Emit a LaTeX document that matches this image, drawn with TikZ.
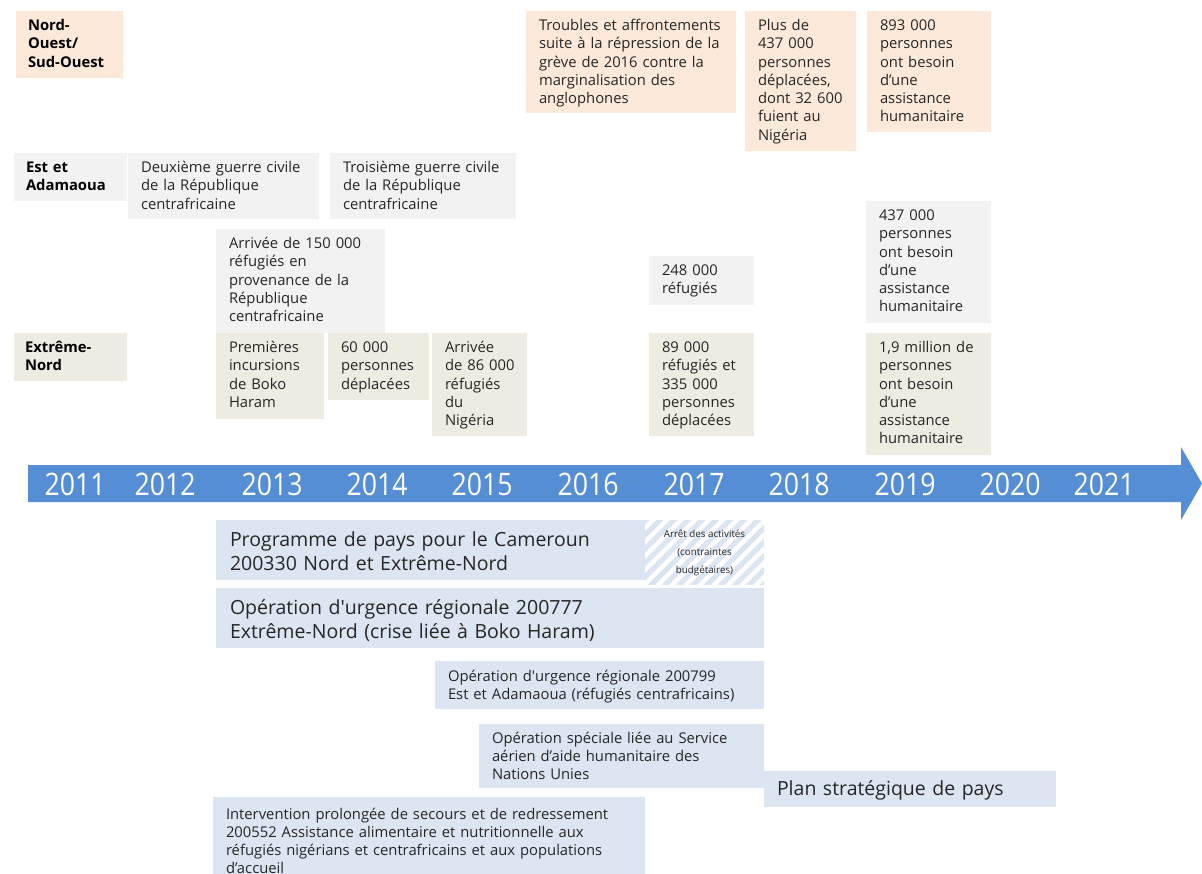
\documentclass[tikz,border=0pt]{standalone}
\usepackage{fontspec}
\usepackage{graphicx}
\setmainfont{Open Sans}
\newcommand\sq{{\addfontfeatures{Ligatures=TeXOff}'}}
\definecolor{cpeach}{HTML}{FDE9D9}
\definecolor{cgrey}{HTML}{F2F2F2}
\definecolor{cbeige}{HTML}{EEECE1}
\definecolor{cblue}{HTML}{DCE6F2}
\definecolor{carrow}{HTML}{558ED5}
\definecolor{ctext}{HTML}{262626}
\tikzset{
  padx/.store in=\evpadx, pady/.store in=\evpady,
  evbox/.style={inner sep=0pt, outer sep=0pt, anchor=north west, draw=none},
  evtext/.style={anchor=base west, inner sep=0pt, outer sep=0pt, text width=440pt,
     align=left, text=ctext, font=\fontsize{14.8}{18.3}\selectfont},
  lbl/.style={font=\fontsize{14.8}{18.3}\selectfont\bfseries, text=black, padx=12},
  big/.style={font=\fontsize{19.5}{24}\selectfont, padx=14, pady=26},
  year/.style={anchor=base, inner sep=0pt, text=white, font=\fontsize{31}{31}\selectfont}
}
% \ev[text style]{name}{colour}{x1}{y1}{x2}{y2}{text}
\newcommand\ev[8][]{%
  \node[evbox, fill=#3, minimum width={#6-#4}, minimum height={#7-#5}] (#2) at (#4,#5) {};
  \node[evtext, padx=13, pady=19.5, #1, xshift=\evpadx pt, yshift=-\evpady pt] (#2-t) at (#2.north west) {#8};
}
\begin{document}
\begin{tikzpicture}[x=1pt,y=-1pt]
\useasboundingbox (0,0) rectangle (1202,874);

% Nord-Ouest / Sud-Ouest
\ev[lbl]{lnw}{cpeach}{16}{11}{123}{78}{Nord-\\Ouest/\\Sud-Ouest}
\ev{tro}{cpeach}{526}{11}{736}{113}{Troubles et affrontements\\suite à la répression de la\\grève de 2016 contre la\\marginalisation des\\anglophones}
\ev{plus}{cpeach}{745}{11}{856}{151}{Plus de\\437 000\\personnes\\déplacées,\\dont 32 600\\fuient au\\Nigéria}
\ev{bnw}{cpeach}{867}{11}{991}{132}{893 000\\personnes\\ont besoin\\d’une\\assistance\\humanitaire}

% Est et Adamaoua
\ev[lbl]{lest}{cgrey}{14}{153}{127}{201}{Est et\\Adamaoua}
\ev{deux}{cgrey}{128}{153}{319}{219}{Deuxième guerre civile\\de la République\\centrafricaine}
\ev{trois}{cgrey}{330}{153}{516}{219}{Troisième guerre civile\\de la République\\centrafricaine}
\ev{arrca}{cgrey}{216}{229}{385}{333}{Arrivée de 150 000\\réfugiés en\\provenance de la\\République\\centrafricaine}
\ev{rca}{cgrey}{649}{256}{754}{305}{248 000\\réfugiés}
\ev{best}{cgrey}{866}{201}{991}{323}{437 000\\personnes\\ont besoin\\d’une\\assistance\\humanitaire}

% Extreme-Nord
\ev[lbl, padx=11]{lext}{cbeige}{14}{333}{127}{381}{Extrême-\\Nord}
\ev{prem}{cbeige}{216}{333}{324}{419}{Premières\\incursions\\de Boko\\Haram}
\ev{dep}{cbeige}{328}{333}{429}{400}{60 000\\personnes\\déplacées}
\ev{arrng}{cbeige}{432}{333}{527}{436}{Arrivée\\de 86 000\\réfugiés\\du\\Nigéria}
\ev{rng}{cbeige}{649}{333}{754}{436}{89 000\\réfugiés et\\335 000\\personnes\\déplacées}
\ev{bext}{cbeige}{866}{333}{991}{455}{1,9 million de\\personnes\\ont besoin\\d’une\\assistance\\humanitaire}

% timeline arrow
\fill[carrow] (28,465) -- (1181,465) -- (1181,447) -- (1202,483.5) -- (1181,520) -- (1181,502) -- (28,502) -- cycle;
\foreach \yr/\cx in {2011/75,2012/165,2013/272,2014/377,2015/482,2016/588,2017/694,2018/799,2019/905,2020/1010,2021/1104}{
  \node[year] (y\yr) at (\cx,495) {\scalebox{0.86}[1]{\yr}};
}

% operations
\ev[big]{prog}{cblue}{216}{520}{645}{580}{Programme de pays pour le Cameroun\\200330 Nord et Extrême-Nord}
\node[evbox, fill=cblue, minimum width=119, minimum height=65] (halt) at (645,520) {};
\begin{scope}
  \clip (halt.north west) rectangle (halt.south east);
  \foreach \i in {-90,-76,...,140}{
    \draw[white, line width=4.5pt] (645+\i,590) -- ++(80,-80);
  }
\end{scope}
\node[inner sep=0pt, align=center, text=ctext, font=\fontsize{9.8}{18}\selectfont] (halt-t) at (halt.center) {Arrêt des activités\\(contraintes\\budgétaires)};
\ev[big]{op777}{cblue}{216}{588}{764}{648}{Opération d\sq urgence régionale 200777\\Extrême-Nord (crise liée à Boko Haram)}
\ev[pady=20]{op799}{cblue}{435}{661}{764}{709}{Opération d\sq urgence régionale 200799\\Est et Adamaoua (réfugiés centrafricains)}
\ev[pady=19]{ops}{cblue}{479}{724}{764}{788}{Opération spéciale liée au Service\\aérien d’aide humanitaire des\\Nations Unies}
\ev[big, padx=13, pady=24]{psp}{cblue}{764}{771}{1056}{807}{Plan stratégique de pays}
\ev[pady=22, font=\fontsize{14.8}{18}\selectfont]{iprr}{cblue}{213}{797}{645}{874}{Intervention prolongée de secours et de redressement\\200552 Assistance alimentaire et nutritionnelle aux\\réfugiés nigérians et centrafricains et aux populations\\d’accueil}
\end{tikzpicture}
\end{document}
